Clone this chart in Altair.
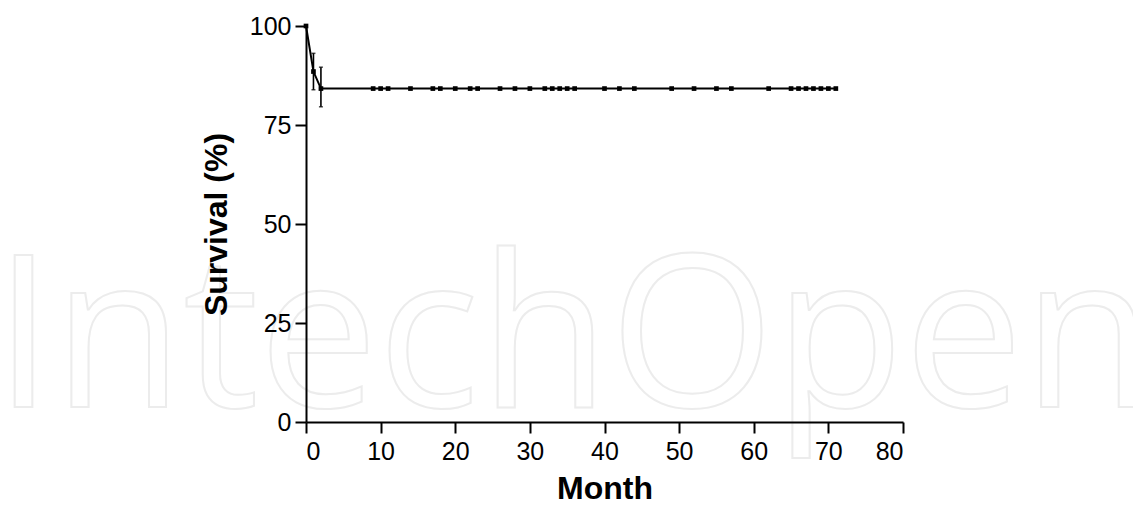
import altair as alt
import pandas as pd

# Kaplan-Meier curve (point-to-point)
curve_month = [0, 1, 2, 71]
curve_surv = [100, 88.5, 84.2, 84.2]

# event points (marked)
event_month = [0, 1, 2]
event_surv = [100, 88.5, 84.2]

# censored observations (all at the plateau)
censor_month = [9, 10, 11, 14, 17, 18, 20, 22, 23, 26, 28, 30, 32, 33, 34, 35, 36,
                40, 42, 44, 49, 52, 55, 57, 62, 65, 66, 67, 68, 69, 70, 71]
plateau = 84.2

# error bars
err_month = [1, 2]
err_lo = [83.9, 79.6]
err_hi = [93.1, 89.6]

curve_df = pd.DataFrame({"Month": curve_month, "Survival": curve_surv})
pts_df = pd.DataFrame({
    "Month": event_month + censor_month,
    "Survival": event_surv + [plateau] * len(censor_month),
})
err_df = pd.DataFrame({"Month": err_month, "lo": err_lo, "hi": err_hi})
wm_df = pd.DataFrame({"label": ["IntechOpen"]})

xscale = alt.Scale(domain=[0, 80], nice=False, zero=False)
yscale = alt.Scale(domain=[0, 100], nice=False)

xaxis = alt.Axis(values=list(range(0, 81, 10)), title="Month", grid=False,
                 tickSize=11, labelPadding=6, titlePadding=9, zindex=1)
yaxis = alt.Axis(values=[0, 25, 50, 75, 100], title="Survival (%)", grid=False,
                 tickSize=11, labelPadding=4, titlePadding=16, zindex=1)

watermark = alt.Chart(wm_df).mark_text(
    font="Open Sans", fontSize=212, align="left", baseline="alphabetic",
    fill="transparent", stroke="#ececec", strokeWidth=2
).encode(text="label:N", x=alt.value(-312), y=alt.value(381))

line = alt.Chart(curve_df).mark_line(color="black", strokeWidth=2).encode(
    x=alt.X("Month:Q", scale=xscale, axis=xaxis),
    y=alt.Y("Survival:Q", scale=yscale, axis=yaxis),
)

pts = alt.Chart(pts_df).mark_point(shape="square", filled=True, color="black",
                                   size=22, opacity=1).encode(
    x=alt.X("Month:Q", scale=xscale),
    y=alt.Y("Survival:Q", scale=yscale),
)

bars = alt.Chart(err_df).mark_rule(color="black", strokeWidth=1.6).encode(
    x=alt.X("Month:Q", scale=xscale),
    y=alt.Y("lo:Q", scale=yscale),
    y2="hi:Q",
)
cap_lo = alt.Chart(err_df).mark_tick(color="black", orient="horizontal",
                                     size=4, thickness=1.5).encode(
    x=alt.X("Month:Q", scale=xscale),
    y=alt.Y("lo:Q", scale=yscale),
)
cap_hi = alt.Chart(err_df).mark_tick(color="black", orient="horizontal",
                                     size=4, thickness=1.5).encode(
    x=alt.X("Month:Q", scale=xscale),
    y=alt.Y("hi:Q", scale=yscale),
)

chart = alt.layer(watermark, line, bars, cap_lo, cap_hi, pts).properties(
    width=597, height=396,
    autosize=alt.AutoSizeParams(type="none"),
    padding={"left": 298, "top": 18, "right": 230, "bottom": 81},
).configure_view(stroke=None).configure_axis(
    domainColor="black", domainWidth=2, tickColor="black", tickWidth=2,
    labelColor="black", titleColor="black",
    labelFont="Liberation Sans", titleFont="Liberation Sans",
    labelFontSize=25, titleFontSize=32, titleFontWeight="bold",
    labelFontWeight="normal",
)

chart.save("out.html", embed_options={"renderer": "svg", "actions": False})
